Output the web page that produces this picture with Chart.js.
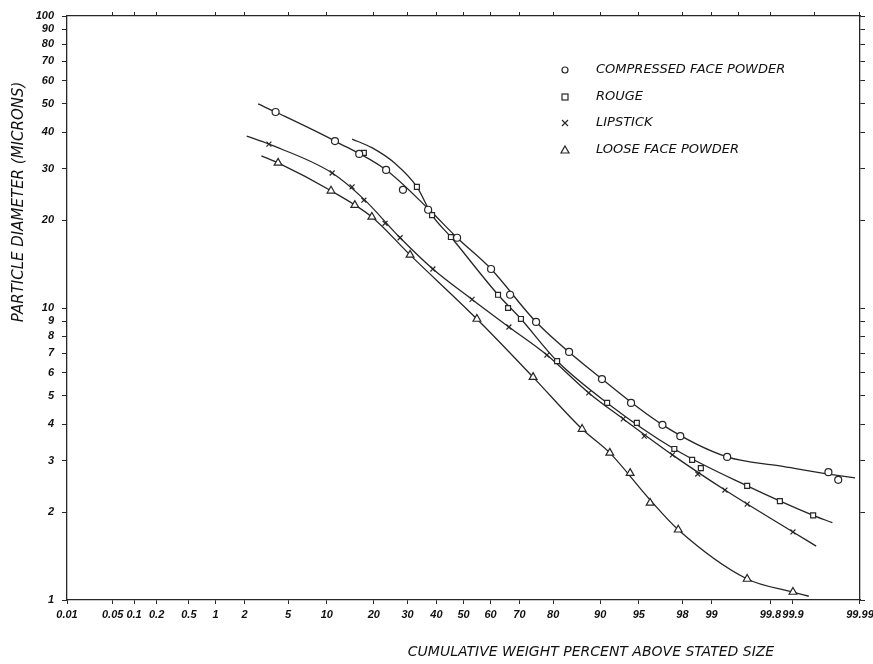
<!DOCTYPE html>
<html><head><meta charset="utf-8">
<script src="https://cdn.jsdelivr.net/npm/chart.js@4"></script>
<style>html,body{margin:0;padding:0;background:#fff}#wrap{width:873px;height:664px}</style>
</head><body><div id="wrap"><canvas id="c" width="873" height="664"></canvas></div>
<script>
// ---- tick definitions ----
const pctTicks  = [0.01,0.05,0.1,0.2,0.5,1,2,5,10,20,30,40,50,60,70,80,90,95,98,99,99.8,99.9,99.99];
const pctLabels = ['0.01','0.05','0.1','0.2','0.5','1','2','5','10','20','30','40','50','60','70','80','90','95','98','99','99.8','99.9','99.99'];
const topTicks  = [0.05,0.1,0.2,1,2,5,10,20,30,40,50,60,70,80,90,95,98,99,99.5,99.8,99.95,99.99];
const diaTicks  = [1,2,3,4,5,6,7,8,9,10,20,30,40,50,60,70,80,90,100];

// ---- series (cumulative weight % above size, particle diameter microns) ----
const compressedPct = [3.9,11.4,16.4,23.4,28.5,37.0,47.6,60.2,66.9,75.2,83.9,90.3,94.2,96.9,97.9,99.33,99.969,99.978];
const compressedDia = [46.9,37.3,33.7,29.7,25.4,21.7,17.4,13.6,11.1,8.96,7.07,5.71,4.73,3.98,3.64,3.09,2.74,2.58];
const rougePct = [17.5,33.1,38.4,45.3,62.7,66.2,70.5,81.0,91.1,94.8,97.6,98.4,98.7,99.61,99.85,99.948];
const rougeDia = [34.0,26.0,20.8,17.5,11.1,10.0,9.17,6.58,4.73,4.04,3.29,3.02,2.83,2.46,2.18,1.95];
const lipstickPct = [3.4,10.9,14.8,17.5,23.1,27.6,38.7,53.2,66.5,78.3,88.0,93.3,95.5,97.5,98.6,99.29,99.61,99.90];
const lipstickDia = [36.4,29.0,26.0,23.4,19.5,17.4,13.6,10.7,8.61,6.90,5.12,4.17,3.64,3.14,2.70,2.38,2.13,1.71];
const loosePct = [4.1,10.7,15.4,19.5,30.8,55.0,74.3,86.7,91.5,94.1,96.0,97.8,99.61,99.90];
const looseDia = [31.4,25.2,22.5,20.5,15.2,9.17,5.80,3.85,3.19,2.72,2.15,1.74,1.18,1.065];

// ---- hand-drawn smooth curves ----
const compressedCurvePct = [2.7,3.9,11.4,23.4,37.0,47.6,60.2,75.2,90.3,96.9,99.33,99.85,99.969,99.988];
const compressedCurveDia = [50.0,46.9,37.3,29.7,21.9,17.4,13.6,8.96,5.71,3.98,3.09,2.88,2.70,2.62];
const rougeCurvePct = [14.8,19.5,26.0,33.1,38.4,45.3,62.7,70.5,81.0,91.1,97.6,99.61,99.948,99.973];
const rougeCurveDia = [37.9,35.4,31.3,26.0,20.8,17.5,11.1,9.17,6.58,4.73,3.29,2.46,1.95,1.84];
const lipstickCurvePct = [2.1,3.4,10.9,17.5,27.6,38.7,53.2,66.5,78.3,88.0,93.3,97.5,99.29,99.90,99.953];
const lipstickCurveDia = [38.8,36.4,29.0,23.6,17.4,13.6,10.7,8.61,6.90,5.12,4.17,3.14,2.38,1.71,1.53];
const looseCurvePct = [2.9,4.1,10.7,19.5,30.8,55.0,74.3,86.7,91.5,96.0,97.8,99.61,99.90,99.94];
const looseCurveDia = [33.2,31.4,25.2,20.5,15.2,9.17,5.80,3.85,3.19,2.2,1.74,1.18,1.065,1.03];

const seriesNames = ['COMPRESSED FACE POWDER','ROUGE','LIPSTICK','LOOSE FACE POWDER'];
const xTitle = 'CUMULATIVE WEIGHT PERCENT ABOVE STATED SIZE';
const yTitle = 'PARTICLE DIAMETER (MICRONS)';

// inverse standard normal CDF (Acklam)
function probit(p){
  const a=[-3.969683028665376e+01,2.209460984245205e+02,-2.759285104469687e+02,1.383577518672690e+02,-3.066479806614716e+01,2.506628277459239e+00];
  const b=[-5.447609879822406e+01,1.615858368580409e+02,-1.556989798598866e+02,6.680131188771972e+01,-1.328068155288572e+01];
  const c=[-7.784894002430293e-03,-3.223964580411365e-01,-2.400758277161838e+00,-2.549732539343734e+00,4.374664141464968e+00,2.938163982698783e+00];
  const d=[7.784695709041462e-03,3.224671290700398e-01,2.445134137142996e+00,3.754408661907416e+00];
  const pl=0.02425, ph=1-pl;
  if(p<pl){const q=Math.sqrt(-2*Math.log(p));return (((((c[0]*q+c[1])*q+c[2])*q+c[3])*q+c[4])*q+c[5])/((((d[0]*q+d[1])*q+d[2])*q+d[3])*q+1);}
  if(p<=ph){const q=p-0.5,r=q*q;return (((((a[0]*r+a[1])*r+a[2])*r+a[3])*r+a[4])*r+a[5])*q/(((((b[0]*r+b[1])*r+b[2])*r+b[3])*r+b[4])*r+1);}
  const q=Math.sqrt(-2*Math.log(1-p));return -(((((c[0]*q+c[1])*q+c[2])*q+c[3])*q+c[4])*q+c[5])/((((d[0]*q+d[1])*q+d[2])*q+d[3])*q+1);
}
const pts = (P,D) => P.map((p,i)=>({x:probit(p/100), y:D[i]}));

const INK = '#262626';
const FONT = "'DejaVu Sans', sans-serif";
const TFONT = "'Liberation Sans', Arial, sans-serif";
const xmin = probit(0.0001), xmax = probit(0.9999);

function curveDS(P,D){
  return {type:'line', data:pts(P,D), borderColor:INK, borderWidth:1.3, pointRadius:0,
          cubicInterpolationMode:'monotone', fill:false, order:2};
}
function markDS(label,P,D,style,r){
  return {type:'scatter', label, data:pts(P,D), showLine:false, pointStyle:style, pointRadius:r,
          pointBorderColor:INK, pointBackgroundColor:'#fff', pointBorderWidth:1.2, order:1};
}

const textPlugin = {
  id:'texts',
  afterDraw(chart){
    const ctx = chart.ctx;
    ctx.save();
    ctx.fillStyle = '#111'; ctx.strokeStyle = INK; ctx.lineWidth = 1.2;
    // legend
    ctx.font = "italic 13px " + FONT;
    ctx.textBaseline = 'middle'; ctx.textAlign = 'left';
    const rows = [70,97,123,150];
    rows.forEach((y,i)=>{
      ctx.fillText(seriesNames[i], 596, y);
      const x = 565;
      ctx.beginPath();
      if(i===0){ ctx.arc(x,y,3,0,Math.PI*2); ctx.stroke(); }
      else if(i===1){ ctx.strokeRect(x-3,y-3,6,6); }
      else if(i===2){ ctx.moveTo(x-3,y-3);ctx.lineTo(x+3,y+3);ctx.moveTo(x+3,y-3);ctx.lineTo(x-3,y+3);ctx.stroke(); }
      else { ctx.moveTo(x,y-4);ctx.lineTo(x+4,y+3);ctx.lineTo(x-4,y+3);ctx.closePath();ctx.stroke(); }
    });
    // x title
    ctx.font = "italic 14px " + FONT;
    ctx.textAlign = 'center';
    ctx.fillText(xTitle, 591, 652);
    // y title
    ctx.font = "italic 15px " + FONT;
    ctx.translate(19, 202);
    ctx.rotate(-Math.PI/2);
    ctx.fillText(yTitle, 0, 0);
    ctx.restore();
  }
};

new Chart(document.getElementById('c'), {
  data:{datasets:[
    curveDS(compressedCurvePct, compressedCurveDia),
    curveDS(rougeCurvePct, rougeCurveDia),
    curveDS(lipstickCurvePct, lipstickCurveDia),
    curveDS(looseCurvePct, looseCurveDia),
    markDS(seriesNames[0], compressedPct, compressedDia, 'circle', 3.5),
    markDS(seriesNames[1], rougePct, rougeDia, 'rect', 3.5),
    markDS(seriesNames[2], lipstickPct, lipstickDia, 'crossRot', 3.5),
    markDS(seriesNames[3], loosePct, looseDia, 'triangle', 4.5)
  ]},
  options:{
    responsive:false, animation:false, devicePixelRatio:1,
    layout:{padding:0},
    plugins:{legend:{display:false}, tooltip:{enabled:false}},
    scales:{
      x:{type:'linear', position:'bottom', min:xmin, max:xmax,
         afterBuildTicks:s=>{s.ticks = pctTicks.map(p=>({value:probit(p/100)}));},
         afterFit:s=>{s.height = 64; s.paddingLeft = 0; s.paddingRight = 0;},
         ticks:{autoSkip:false, maxRotation:0, padding:4, color:'#111',
                font:{family:TFONT, size:11, style:'italic', weight:'bold'},
                callback:(v,i)=>pctLabels[i]},
         grid:{display:true, drawOnChartArea:false, drawTicks:true, tickLength:4, color:INK, lineWidth:1},
         border:{display:true, color:INK, width:1.3}},
      x2:{type:'linear', position:'top', min:xmin, max:xmax,
         afterBuildTicks:s=>{s.ticks = topTicks.map(p=>({value:probit(p/100)}));},
         afterFit:s=>{s.height = 16; s.paddingLeft = 0; s.paddingRight = 0;},
         ticks:{display:false},
         grid:{display:true, drawOnChartArea:false, drawTicks:true, tickLength:4, color:INK, lineWidth:1},
         border:{display:true, color:INK, width:1.3}},
      y:{type:'logarithmic', position:'left', min:1, max:100,
         afterBuildTicks:s=>{s.ticks = diaTicks.map(v=>({value:v}));},
         afterFit:s=>{s.width = 67; s.paddingTop = 0; s.paddingBottom = 0;},
         ticks:{autoSkip:false, padding:8, color:'#111',
                font:{family:TFONT, size:11, style:'italic', weight:'bold'},
                callback:(v)=>String(v)},
         grid:{display:true, drawOnChartArea:false, drawTicks:true, tickLength:5, color:INK, lineWidth:1},
         border:{display:true, color:INK, width:1.3}},
      y2:{type:'logarithmic', position:'right', min:1, max:100,
         afterBuildTicks:s=>{s.ticks = diaTicks.map(v=>({value:v}));},
         afterFit:s=>{s.width = 13; s.paddingTop = 0; s.paddingBottom = 0;},
         ticks:{display:false},
         grid:{display:true, drawOnChartArea:false, drawTicks:true, tickLength:5, color:INK, lineWidth:1},
         border:{display:true, color:INK, width:1.3}}
    }
  },
  plugins:[textPlugin]
});
</script></body></html>
